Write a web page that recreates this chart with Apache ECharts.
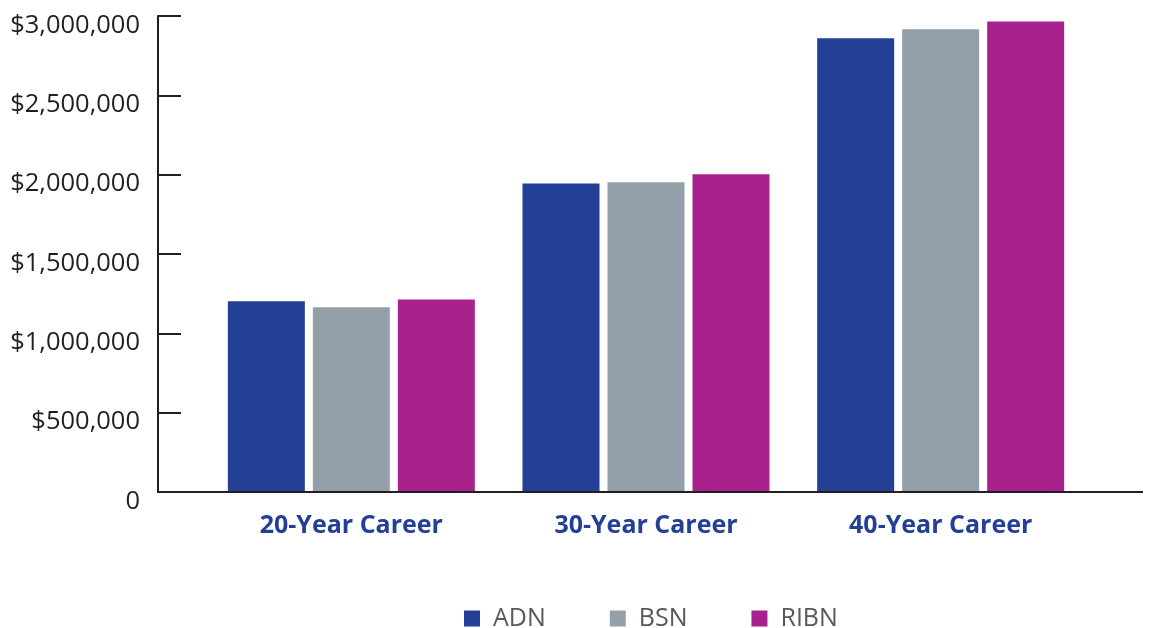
<!DOCTYPE html>
<html>
<head>
<meta charset="utf-8">
<title>Career Earnings by Nursing Degree</title>
<script src="https://cdn.jsdelivr.net/npm/echarts@6/dist/echarts.min.js"></script>
<style>
  html, body { margin: 0; padding: 0; background: #ffffff; }
  #chart { width: 1157px; height: 628px; }
</style>
</head>
<body>
<div id="chart"></div>
<script>
// Career length categories
const categories = ['20-Year Career', '30-Year Career', '40-Year Career'];

// Lifetime earnings per degree path (USD)
const adnValues  = [1202000, 1945000, 2859000];
const bsnValues  = [1164000, 1952000, 2916000];
const ribnValues = [1214000, 2002000, 2966000];

// Value axis range and step
const yMin = 0;
const yMax = 3000000;
const yStep = 500000;

const FONT = '"Open Sans", "Noto Sans", sans-serif';
const AXIS_COLOR = '#231f20';

const chart = echarts.init(document.getElementById('chart'), null, { renderer: 'canvas' });

const gridLeft = 204;
const gridTop = 16;
const gridRight = 69;
const gridBottom = 136;

function moneyLabel(v) {
  const text = v === 0 ? '0' : '$' + v.toString().replace(/\B(?=(\d{3})+(?!\d))/g, ',');
  return '{v|' + text + '}';
}

const barBase = { type: 'bar', barWidth: 77, barGap: '10.4%' };

chart.setOption({
  animation: false,
  backgroundColor: '#ffffff',
  grid: { left: gridLeft, top: gridTop, right: gridRight, bottom: gridBottom },
  legend: {
    left: 464,
    top: 606,
    padding: 0,
    itemWidth: 16,
    itemHeight: 16,
    itemGap: 64,
    icon: 'rect',
    textStyle: { fontFamily: FONT, fontSize: 25, color: '#58595b', padding: [0, 0, 0, 8] },
    data: ['ADN', 'BSN', 'RIBN']
  },
  xAxis: {
    type: 'category',
    data: categories,
    axisLine: { show: false },
    axisTick: { show: false },
    axisLabel: {
      margin: 21,
      fontFamily: FONT,
      fontSize: 25,
      fontWeight: 'bold',
      color: '#233f96'
    }
  },
  yAxis: {
    type: 'value',
    min: yMin,
    max: yMax,
    interval: yStep,
    offset: gridLeft - 158,
    axisLine: { show: true, lineStyle: { color: AXIS_COLOR, width: 2 } },
    axisTick: { show: true, inside: true, length: 23, lineStyle: { color: AXIS_COLOR, width: 2 } },
    splitLine: { show: false },
    axisLabel: {
      margin: 18,
      formatter: moneyLabel,
      rich: {
        v: {
          fontFamily: FONT,
          fontSize: 25.5,
          color: '#231f20',
          padding: [19, 0, 0, 0]
        }
      }
    }
  },
  series: [
    Object.assign({ name: 'ADN',  data: adnValues,  itemStyle: { color: '#233f96' } }, barBase),
    Object.assign({ name: 'BSN',  data: bsnValues,  itemStyle: { color: '#94a0a9' } }, barBase),
    Object.assign({ name: 'RIBN', data: ribnValues, itemStyle: { color: '#a8218c' } }, barBase)
  ]
});

// Baseline running from the value axis out past the last group
const zeroY = chart.convertToPixel({ yAxisIndex: 0 }, 0);
chart.setOption({
  graphic: [{
    type: 'line',
    shape: { x1: 157, y1: zeroY, x2: 1143, y2: zeroY },
    style: { stroke: AXIS_COLOR, lineWidth: 2 },
    z: 10
  }]
});
</script>
</body>
</html>
